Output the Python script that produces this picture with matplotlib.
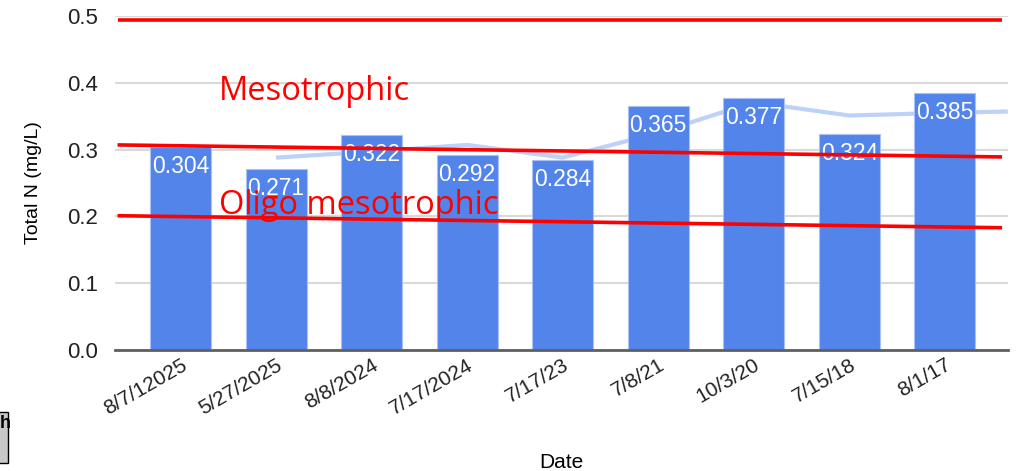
#!/usr/bin/env python
"""
Bar chart of total nitrogen per sampling date, with trophic state bands.
"""

import matplotlib
matplotlib.use("Agg")
import matplotlib.pyplot as plt
from matplotlib.patches import Rectangle

# sampling dates and measured total N (mg/L)
dates = ["8/7/12025", "5/27/2025", "8/8/2024", "7/17/2024", "7/17/23",
         "7/8/21", "10/3/20", "7/15/18", "8/1/17"]
total_n = [0.304, 0.271, 0.322, 0.292, 0.284, 0.365, 0.377, 0.324, 0.385]

# two point moving average line (as shown), x in category positions
avg_x = [1, 2, 3, 4, 5, 6, 7, 8, 8.66]
avg_y = [0.288, 0.297, 0.307, 0.288, 0.325, 0.371, 0.351, 0.355, 0.357]

# hand drawn boundary lines (start, end) across the plot
bound_x = [-0.66, 8.6]
upper_bound = [0.494, 0.494]
meso_bound = [0.307, 0.289]
oligo_bound = [0.201, 0.183]

BAR_COLOR = "#5384ea"
LINE_COLOR = "#bdd1f9"
RED = "#ff0000"
TICK_FONT = "Liberation Sans"

fig = plt.figure(figsize=(10.19, 4.71), dpi=100)
ax = fig.add_axes([0.113, 0.257, 0.876, 0.709])

x = list(range(len(dates)))

# average line sits behind the bars
ax.plot(avg_x, avg_y, color=LINE_COLOR, linewidth=3, zorder=2,
        solid_capstyle="butt")
bars = ax.bar(x, total_n, width=0.64, color=BAR_COLOR, zorder=3,
              edgecolor="#a9c1f3", linewidth=0.8)

# value labels inside the top of each bar
for xi, val in zip(x, total_n):
    ax.annotate("%.3f" % val, (xi, val), xytext=(0, -14),
                textcoords="offset points", ha="center", va="center",
                color="white", fontsize=16.5, family=TICK_FONT, zorder=4)

# boundary lines and zone names
for yy in (upper_bound, meso_bound, oligo_bound):
    ax.plot(bound_x, yy, color=RED, linewidth=2.6, zorder=5,
            solid_capstyle="butt")
ax.text(0.40, 0.374, "Mesotrophic", color=RED, fontsize=23.5,
        family="Open Sans", va="baseline", ha="left", zorder=6)
ax.text(0.40, 0.2036, "Oligo mesotrophic", color=RED, fontsize=23.5,
        family="Open Sans", va="baseline", ha="left", zorder=6)

ax.set_xlim(-0.685, 8.66)
ax.set_ylim(0, 0.5)
ax.set_yticks([0.0, 0.1, 0.2, 0.3, 0.4, 0.5])
ax.set_yticklabels(["0.0", "0.1", "0.2", "0.3", "0.4", "0.5"],
                   fontsize=16, family=TICK_FONT, color="#222222")
ax.set_xticks(x)
ax.set_xticklabels(dates, rotation=30, ha="right", rotation_mode="anchor",
                   fontsize=15, family=TICK_FONT, color="#222222")
ax.tick_params(axis="both", length=0)
ax.tick_params(axis="y", pad=12)
ax.tick_params(axis="x", pad=4)

ax.grid(axis="y", color="#d9d9d9", linewidth=1.5, zorder=0)
ax.set_axisbelow(True)
for side in ("top", "right", "left"):
    ax.spines[side].set_visible(False)
ax.spines["bottom"].set_color("#5f5f5f")
ax.spines["bottom"].set_linewidth(2)
ax.spines["bottom"].set_zorder(4)

ax.set_xlabel("Date", fontsize=15, family=TICK_FONT, labelpad=25)
ax.set_ylabel("Total N (mg/L)", fontsize=14, family=TICK_FONT, labelpad=18)

# small grey box cut off at the bottom left corner
fig.add_artist(Rectangle((-0.01, 1 - 463 / 471), 0.018, 51 / 471,
                         transform=fig.transFigure, facecolor="#c8c8c8",
                         edgecolor="black", linewidth=1))
fig.text(0.0, 1 - 423 / 471, "h", fontsize=13, fontweight="bold",
         family=TICK_FONT, ha="left", va="center")

fig.savefig("out.png", dpi=100)
